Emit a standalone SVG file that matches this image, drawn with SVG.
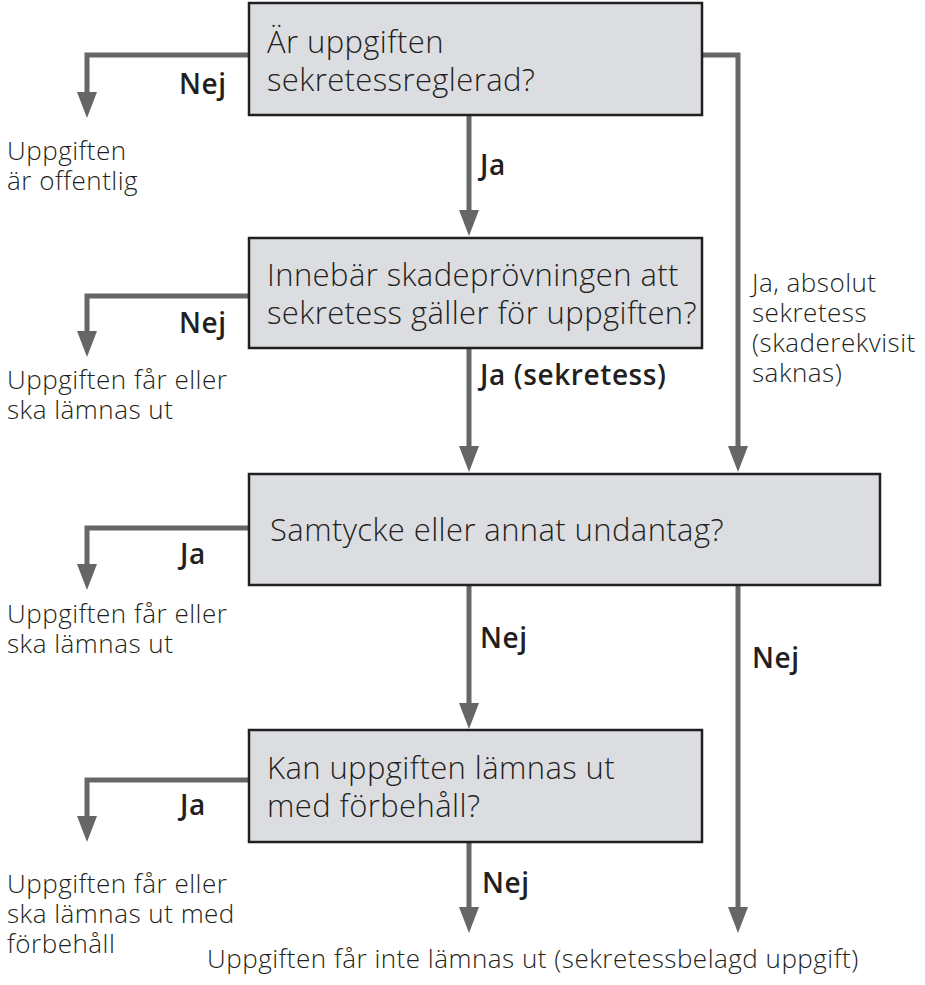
<svg xmlns="http://www.w3.org/2000/svg" width="925" height="985" viewBox="0 0 925 985">
<defs>
<style>
.box{fill:#dcdde0;stroke:#231f20;stroke-width:2.5}
.q{font-family:"Open Sans",sans-serif;font-weight:300;font-size:31px;letter-spacing:0.4px;fill:#231f20}
.t{font-family:"Open Sans",sans-serif;font-weight:300;font-size:26px;letter-spacing:0.5px;fill:#231f20}
.b{font-family:"Open Sans",sans-serif;font-weight:600;font-size:28px;letter-spacing:0.6px;fill:#231f20}
.ln{fill:none;stroke:#666;stroke-width:5}
.ah{fill:#666}
</style>
</defs>
<rect width="925" height="985" fill="#fff"/>
<g id="connectors">
<path class="ln" d="M249 55 H87 V95"/><path class="ah" d="M77 92 L97 92 L87 118 Z"/>
<path class="ln" d="M469 115 V212"/><path class="ah" d="M459 210 L479 210 L469 236 Z"/>
<path class="ln" d="M702 55 H738 V448"/><path class="ah" d="M728 446 L748 446 L738 472 Z"/>
<path class="ln" d="M249 296 H87 V334"/><path class="ah" d="M77 331 L97 331 L87 357 Z"/>
<path class="ln" d="M469 348 V448"/><path class="ah" d="M459 446 L479 446 L469 472 Z"/>
<path class="ln" d="M249 528 H87 V566"/><path class="ah" d="M77 564 L97 564 L87 590 Z"/>
<path class="ln" d="M469 585 V705"/><path class="ah" d="M459 703 L479 703 L469 729 Z"/>
<path class="ln" d="M738 585 V909"/><path class="ah" d="M728 907 L748 907 L738 933 Z"/>
<path class="ln" d="M249 780 H87 V818"/><path class="ah" d="M77 816 L97 816 L87 842 Z"/>
<path class="ln" d="M469 842 V909"/><path class="ah" d="M459 907 L479 907 L469 933 Z"/>
<text class="b" x="179" y="94">Nej</text>
<text class="b" x="480" y="175">Ja</text>
<text class="b" x="179" y="333">Nej</text>
<text class="b" x="480" y="385">Ja (sekretess)</text>
<text class="b" x="180" y="564">Ja</text>
<text class="b" x="480" y="648">Nej</text>
<text class="b" x="752" y="668">Nej</text>
<text class="b" x="180" y="815">Ja</text>
<text class="b" x="482" y="893">Nej</text>
<text class="t" x="752" y="292">Ja, absolut<tspan x="752" dy="30">sekretess</tspan><tspan x="752" dy="30">(skaderekvisit</tspan><tspan x="752" dy="30">saknas)</tspan></text>
</g>
<g id="q1"><rect class="box" x="249" y="3" width="453" height="112"/>
<text class="q" x="267" y="53">Är uppgiften<tspan x="267" dy="38">sekretessreglerad?</tspan></text></g>
<g id="q2"><rect class="box" x="249" y="238" width="453" height="110"/>
<text class="q" x="267" y="286">Innebär skadeprövningen att<tspan x="267" dy="38">sekretess gäller för uppgiften?</tspan></text></g>
<g id="q3"><rect class="box" x="249" y="474" width="631" height="111"/>
<text class="q" x="270" y="541">Samtycke eller annat undantag?</text></g>
<g id="q4"><rect class="box" x="249" y="730" width="453" height="112"/>
<text class="q" x="267" y="779">Kan uppgiften lämnas ut<tspan x="267" dy="38">med förbehåll?</tspan></text></g>
<g id="o1"><text class="t" x="7" y="160">Uppgiften<tspan x="7" dy="30">är offentlig</tspan></text></g>
<g id="o2"><text class="t" x="7" y="389">Uppgiften får eller<tspan x="7" dy="30">ska lämnas ut</tspan></text></g>
<g id="o3"><text class="t" x="7" y="623">Uppgiften får eller<tspan x="7" dy="30">ska lämnas ut</tspan></text></g>
<g id="o4"><text class="t" x="7" y="893">Uppgiften får eller<tspan x="7" dy="30">ska lämnas ut med</tspan><tspan x="7" dy="30">förbehåll</tspan></text></g>
<g id="o5"><text class="t" x="207" y="968">Uppgiften får inte lämnas ut (sekretessbelagd uppgift)</text></g>
</svg>
